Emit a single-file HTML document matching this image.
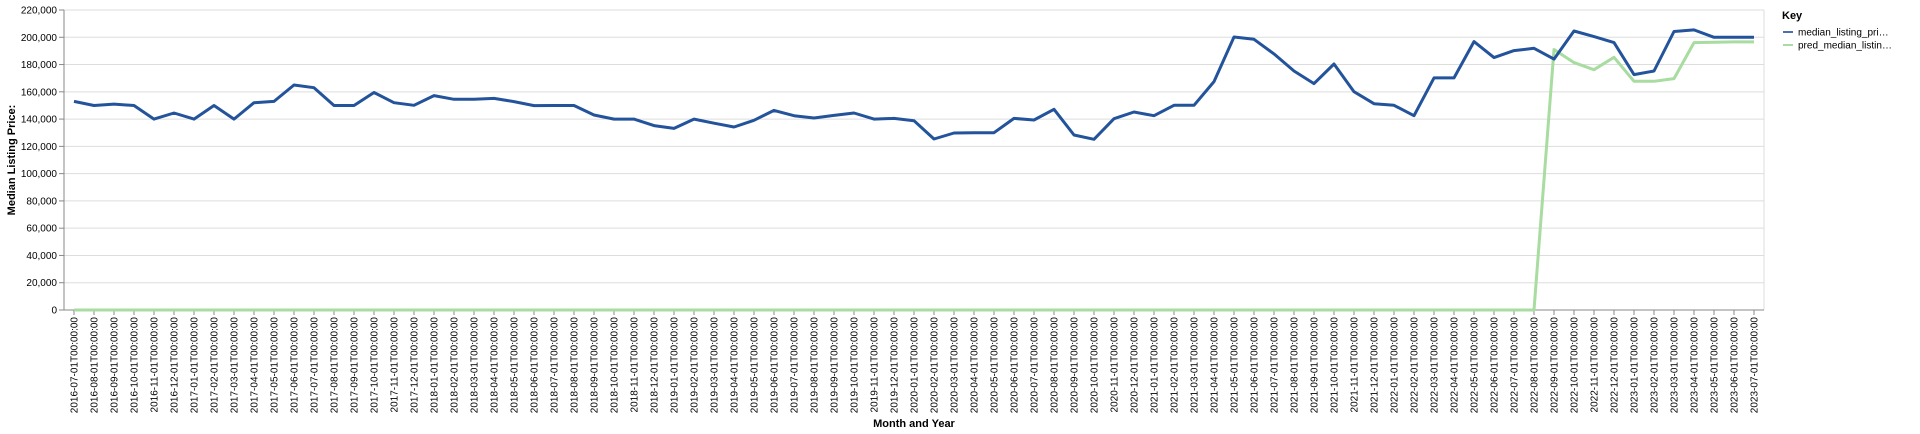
<!DOCTYPE html>
<html><head><meta charset="utf-8"><style>
html,body{margin:0;padding:0;background:#fff;}
svg{display:block;font-family:"Liberation Sans",Arial,sans-serif;}
</style></head><body>
<svg id="chart" width="1920" height="434" xmlns="http://www.w3.org/2000/svg">
<g id="grid"></g>
<g id="yaxis"></g>
<g id="xaxis"></g>
<g id="series"></g>
<text transform="translate(15,160) rotate(-90)" text-anchor="middle" font-size="11" font-weight="bold" fill="#000">Median Listing Price:</text>
<text x="914" y="427" text-anchor="middle" font-size="11" font-weight="bold" fill="#000">Month and Year</text>
<g>
<text x="1782" y="19" font-size="11" font-weight="bold" fill="#000">Key</text>
<g>
<line x1="1783" y1="32" x2="1793" y2="32" stroke="#4c6fae" stroke-width="2"/>
<text x="1798" y="35.5" font-size="10" fill="#000">median_listing_pri…</text></g>
<g>
<line x1="1783" y1="45" x2="1793" y2="45" stroke="#a8dca0" stroke-width="2"/>
<text x="1798" y="48.5" font-size="10" fill="#000">pred_median_listin…</text></g>
</g>
</svg>
<script>
const actual=[153000,150000,151000,150000,140000,144500,140000,150000,140000,152000,153000,165000,163000,150000,150000,159500,152000,150100,157200,154500,154500,155200,152800,149900,150000,150000,143000,140000,140000,135200,133200,140000,137000,134200,139100,146400,142500,140800,142700,144500,140000,140500,138800,125400,129800,130000,130000,140500,139300,147200,128300,125200,140300,145200,142500,150100,150100,167500,200200,198500,187800,175300,166000,180400,160100,151300,150100,142500,170200,170200,196800,185100,190200,191900,184000,204600,200500,196100,172600,175300,204200,205400,200000,200000,200000];
const predicted=[0,0,0,0,0,0,0,0,0,0,0,0,0,0,0,0,0,0,0,0,0,0,0,0,0,0,0,0,0,0,0,0,0,0,0,0,0,0,0,0,0,0,0,0,0,0,0,0,0,0,0,0,0,0,0,0,0,0,0,0,0,0,0,0,0,0,0,0,0,0,0,0,0,0,191000,181400,176200,185300,167700,167700,169700,196100,196300,196600,196600];
const yTicks=[0,20000,40000,60000,80000,100000,120000,140000,160000,180000,200000,220000];
const startYear=2016, startMonth=7;
const categories=[];
for(let i=0;i<actual.length;i++){const m=startMonth-1+i;const yy=startYear+Math.floor(m/12);const mm=m%12+1;categories.push(yy+'-'+String(mm).padStart(2,'0')+'-01T00:00:00');}
const L=64,R=1764,T=10,B=310,YMAX=220000;
const step=(R-L)/categories.length;
const xs=i=>L+step*(i+0.5);
const ys=v=>B-(v/YMAX)*(B-T);
const NS='http://www.w3.org/2000/svg';
function mk(t,a,p){const e=document.createElementNS(NS,t);for(const k in a)e.setAttribute(k,a[k]);p.appendChild(e);return e;}
const grid=document.getElementById('grid'),ya=document.getElementById('yaxis'),xa=document.getElementById('xaxis'),se=document.getElementById('series');
yTicks.forEach(v=>{const y=ys(v);
const g=mk('line',{x1:L,x2:R,y1:y,y2:y,stroke:'#ddd','stroke-width':1},grid);


mk('line',{x1:L-5,x2:L,y1:y,y2:y,stroke:'#888'},ya);
const t=mk('text',{x:L-7,y:y+3.5,'text-anchor':'end','font-size':10,fill:'#000'},ya);t.textContent=v.toLocaleString('en-US');

});
mk('line',{x1:R,x2:R,y1:T,y2:B,stroke:'#ddd'},grid);
mk('line',{x1:L,x2:L,y1:T,y2:B,stroke:'#888'},ya);
mk('line',{x1:L,x2:R,y1:B,y2:B,stroke:'#888'},xa);
categories.forEach((c,i)=>{const x=xs(i);
mk('line',{x1:x,x2:x,y1:B,y2:B+5,stroke:'#888'},xa);
const t=mk('text',{transform:`translate(${x+3.5},${B+7}) rotate(-90)`,'text-anchor':'end','font-size':10,fill:'#000'},xa);t.textContent=c;

});
function line(vals,color,name){const d=vals.map((v,i)=>(i?'L':'M')+xs(i).toFixed(1)+','+ys(v).toFixed(1)).join('');
const p=mk('path',{d:d,fill:'none',stroke:color,'stroke-width':3,'stroke-linejoin':'round'},se);

}
line(predicted,'#a8dca0','pred-median-line');
line(actual,'#23539b','median-listing-price-line');
</script>
</body></html>
